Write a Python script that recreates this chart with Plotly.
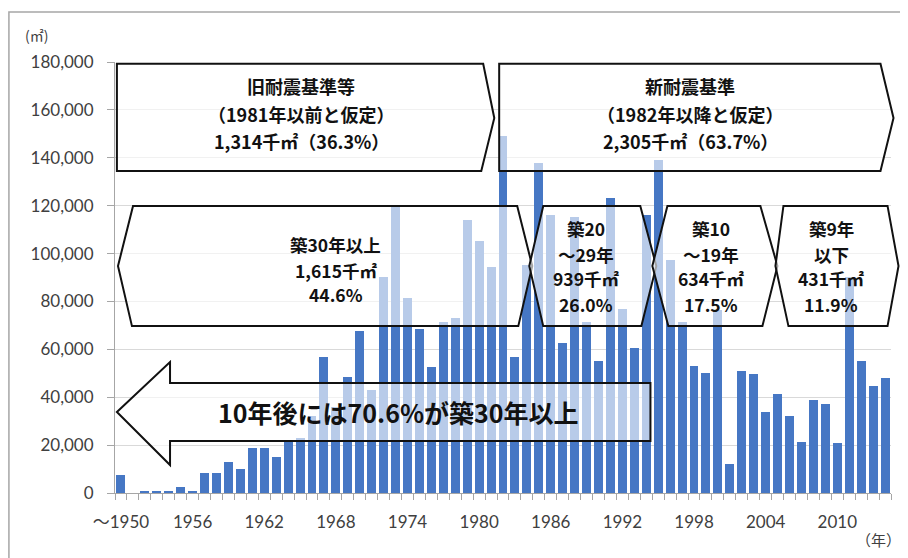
import plotly.graph_objects as go

# ---------------- data ----------------
years = list(range(1950, 2015))
floor_area = [
    7500, 0, 500, 500, 500, 2400, 800, 8500, 8500, 12900,          # 1950-1959
    9900, 19000, 19000, 15000, 21500, 22800, 32000, 56600, 36000, 48600,  # 1960-1969
    67600, 43000, 90300, 119400, 81300, 68500, 52700, 71500, 73000, 114000,  # 1970-1979
    105200, 94300, 149000, 56800, 95100, 137700, 116300, 62700, 115300, 71500,  # 1980-1989
    55200, 123000, 77000, 60400, 116000, 139000, 97300, 71500, 53000, 50200,  # 1990-1999
    76500, 12000, 51000, 49500, 33700, 41300, 32300, 21200, 38800, 37300,  # 2000-2009
    20700, 90300, 55100, 44800, 47900,                                     # 2010-2014
]
tick_years = [1950, 1956, 1962, 1968, 1974, 1980, 1986, 1992, 1998, 2004, 2010]
tick_labels = ["～1950", "1956", "1962", "1968", "1974", "1980", "1986",
               "1992", "1998", "2004", "2010"]

X0, X1 = 1949.5, 2014.5
Y0, Y1 = 0, 180000

BAR = "#4677c4"
FONT_JP = "Noto Sans CJK JP"


def xp(x):
    return (x - X0) / (X1 - X0)


def yp(y):
    return (y - Y0) / (Y1 - Y0)


def poly(points):
    pts = [f"{xp(x):.5f},{yp(y):.5f}" for x, y in points]
    return "M " + " L ".join(pts) + " Z"


fig = go.Figure()
fig.add_trace(go.Bar(x=years, y=floor_area, width=0.75,
                     marker=dict(color=BAR, line=dict(width=0)),
                     hoverinfo="x+y"))

# overlay boxes (year, value units)
box_top, box_mid, box_bot = 179300, 156600, 134500
age_top, age_mid, age_bot = 119900, 94800, 69700
shapes_pts = [
    # 旧耐震基準等
    [(1949.66, box_top), (1980.34, box_top), (1981.27, box_mid), (1980.18, box_bot), (1949.66, box_bot)],
    # 新耐震基準
    [(1981.68, box_top), (2013.62, box_top), (2014.71, box_mid), (2013.62, box_bot), (1981.68, box_bot)],
    # 築30年以上
    [(1951.01, age_top), (1983.19, age_top), (1984.45, age_mid), (1983.28, age_bot),
     (1950.92, age_bot), (1949.75, age_mid)],
    # 築20~29年
    [(1985.37, age_top), (1993.5, age_top), (1994.84, age_mid), (1993.59, age_bot),
     (1985.37, age_bot), (1984.2, age_mid)],
    # 築10~19年
    [(1995.77, age_top), (2003.56, age_top), (2004.99, age_mid), (2003.73, age_bot),
     (1995.85, age_bot), (1994.51, age_mid)],
    # 築9年以下
    [(2005.49, age_top), (2014.21, age_top), (2015.13, age_mid), (2014.21, age_bot),
     (2005.91, age_bot), (2004.82, age_mid)],
    # 10年後 arrow
    [(1949.66, 33830), (1954.11, 54700), (1954.11, 45940), (1994.35, 45940),
     (1994.35, 21720), (1954.11, 21720), (1954.11, 11690)],
]
for pts in shapes_pts:
    fig.add_shape(type="path", path=poly(pts), xref="paper", yref="paper",
                  line=dict(color="#111111", width=2),
                  fillcolor="rgba(255,255,255,0.62)", layer="above")

# outer border
fig.add_shape(type="rect", xref="paper", yref="paper",
              x0=-0.1367, x1=1.0155, y0=-0.17, y1=1.116,
              line=dict(color="#a6a6a6", width=1.5), fillcolor="rgba(0,0,0,0)",
              layer="above")


def txt(x, y, s, size=17.5):
    fig.add_annotation(x=x, y=y, xref="x", yref="y", text=f"<b>{s}</b>",
                       showarrow=False, xanchor="center", yanchor="middle",
                       font=dict(family=FONT_JP, size=size, color="#111111"))


# top boxes
for yv, s in [(170000, "旧耐震基準等"), (158300, "（1981年以前と仮定）"),
              (147000, "1,314千㎡（36.3%）")]:
    txt(1965.1, yv, s, 18)
for yv, s in [(170000, "新耐震基準"), (158300, "（1982年以降と仮定）"),
              (147000, "2,305千㎡（63.7%）")]:
    txt(1997.7, yv, s, 18)

# age boxes
for yv, s in [(103600, "築30年以上"), (93100, "1,615千㎡"), (82700, "44.6%")]:
    txt(1968.0, yv, s)
lines_y = [110300, 99800, 89400, 78900]
for xc, texts in [(1988.98, ["築20", "～29年", "939千㎡", "26.0%"]),
                  (1999.4, ["築10", "～19年", "634千㎡", "17.5%"]),
                  (2009.5, ["築9年", "以下", "431千㎡", "11.9%"])]:
    for yv, s in zip(lines_y, texts):
        txt(xc, yv, s)

# arrow text
txt(1973.2, 33830, "10年後には70.6%が築30年以上", size=25)

# unit labels
fig.add_annotation(x=-0.119, y=1.062, xref="paper", yref="paper", text="(㎡)",
                   showarrow=False, xanchor="left", yanchor="middle",
                   font=dict(family=FONT_JP, size=14, color="#404040"))
fig.add_annotation(x=1.016, y=-0.109, xref="paper", yref="paper", text="（年）",
                   showarrow=False, xanchor="right", yanchor="middle",
                   font=dict(family=FONT_JP, size=15, color="#404040"))

# the page body adds an 8px offset, so the figure is 8px smaller on each side
fig.update_layout(
    width=900, height=550,
    margin=dict(l=107, r=17, t=54, b=65),
    paper_bgcolor="white", plot_bgcolor="white",
    showlegend=False, bargap=0,
    xaxis=dict(range=[X0, X1], tickmode="array", tickvals=tick_years,
               ticktext=tick_labels, ticks="", ticklabelstandoff=14,
               showline=True, linecolor="#a6a6a6", linewidth=1,
               showgrid=False, zeroline=False,
               tickfont=dict(family="Lato, Noto Sans CJK JP", size=17, color="#404040"),
               minor=dict(ticks="outside", ticklen=6, tickcolor="#a6a6a6",
                          tick0=1949.5, dtick=1, showgrid=False)),
    yaxis=dict(range=[Y0, Y1], dtick=20000, tickformat=",",
               ticks="outside", ticklen=7, tickcolor="#a6a6a6",
               ticklabelstandoff=10,
               showline=True, linecolor="#a6a6a6", linewidth=1,
               showgrid=True, gridcolor="#d9d9d9", gridwidth=1, zeroline=False,
               tickfont=dict(family="Lato", size=17, color="#404040")),
)

fig.write_html("out.html")
